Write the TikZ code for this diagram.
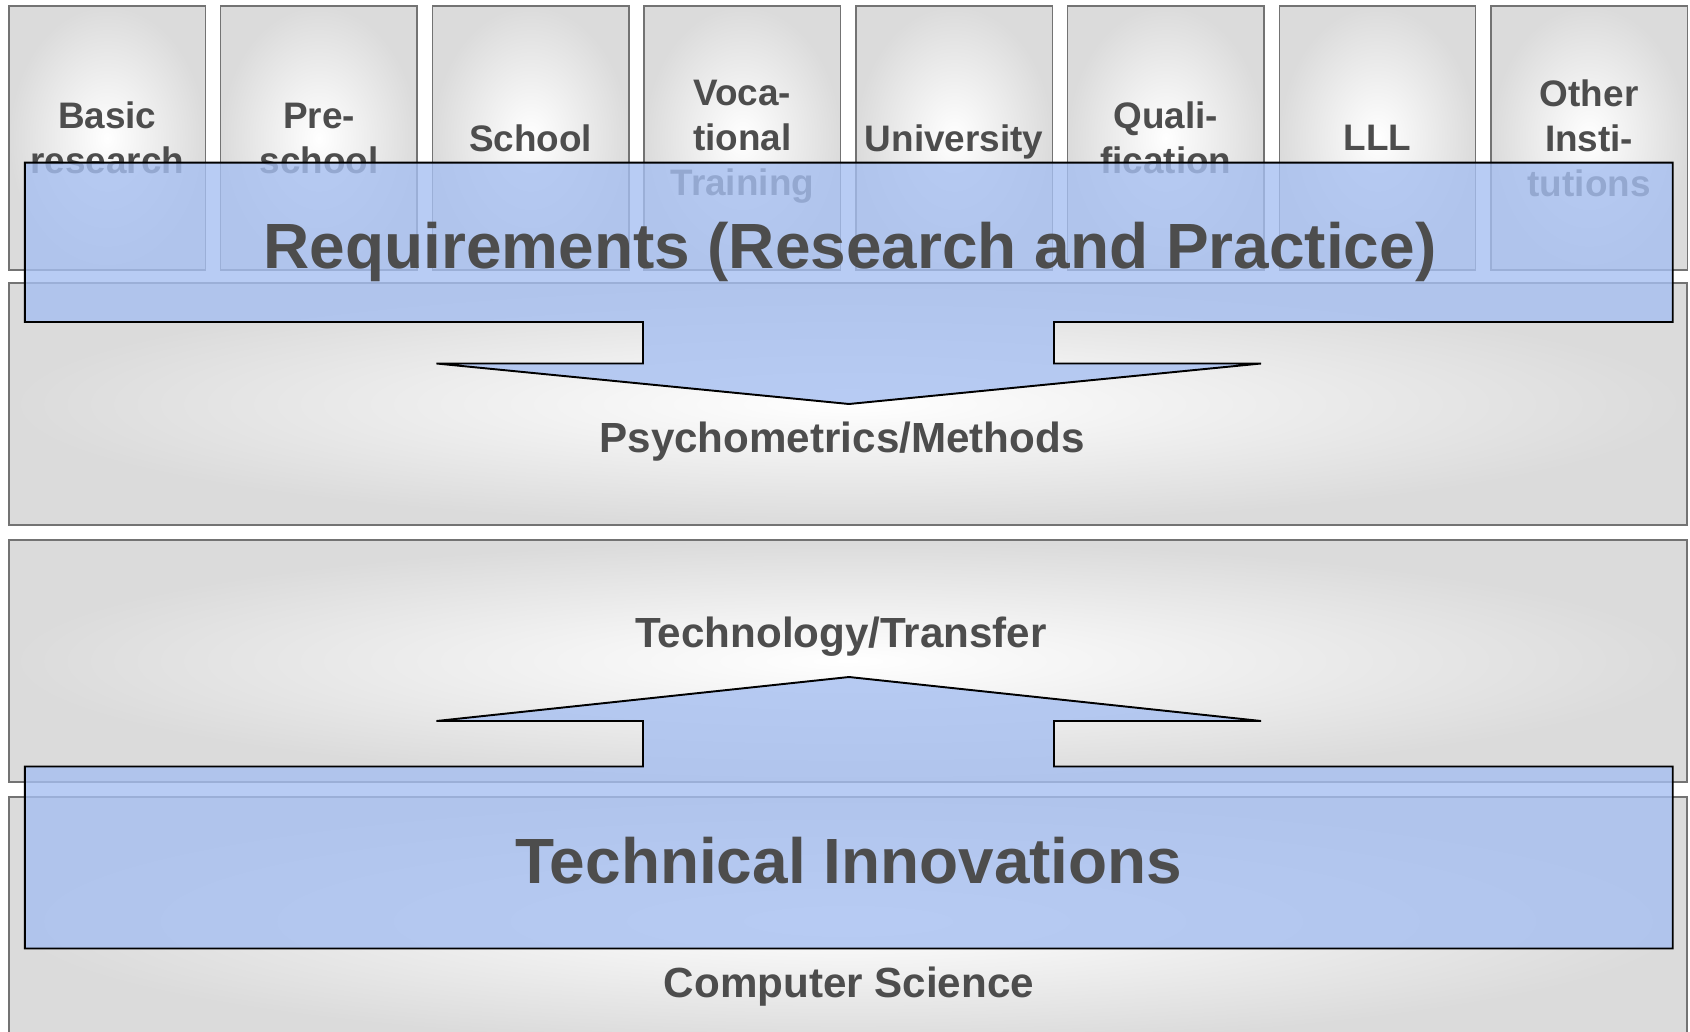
\documentclass[tikz,border=0pt]{standalone}
\usepackage{fontspec}
\setmainfont{Liberation Sans}
\definecolor{labelgray}{RGB}{77,77,77}
\definecolor{panelgray}{RGB}{219,219,219}
\definecolor{arrowblue}{RGB}{166,191,241}
\begin{document}
\begin{tikzpicture}%
	[x={(0.02cm,0cm)},
	y={(0cm,-0.02cm)},
	panel/.style={draw=black!55,line width=0.8pt,shading=radial,inner color=white,outer color=panelgray},
	field/.style={panel,minimum width=3.93cm,minimum height=5.28cm,inner sep=0pt,text depth=0pt,text=labelgray,align=center,font=\fontsize{21}{25.6}\selectfont\bfseries},
	flow/.style={fill=arrowblue,fill opacity=0.8,draw=black,line width=1.1pt,line join=miter},
	layer/.style={text=labelgray,text depth=0pt,font=\fontsize{24}{28}\selectfont\bfseries},
	headline/.style={text=labelgray,text depth=0pt,font=\fontsize{36.4}{40}\selectfont\bfseries}]
	%
	\useasboundingbox (0,0) rectangle (1690,1031);
	\clip (0,0) rectangle (1690,1031);
	%%
	%% Fields of education in the top row
	%%
	\foreach \name/\lbl [count=\i from 0] in {basic/{Basic\\research},preschool/{Pre-\\school},school/{School},vocational/{Voca-\\tional\\Training},university/{University},qualification/{Quali-\\fication},lll/{LLL},other/{Other\\Insti-\\tutions}}
		\node[field] (\name) at ({107.25+211.7*\i},138) {\lbl};
	%%
	%% Layers
	%%
	\draw[panel] (9,283) rectangle (1687,525);
	\draw[panel] (9,540) rectangle (1687,782);
	\draw[panel] (9,797) rectangle (1687,1045);
	%%
	%% Arrows
	%%
	\draw[flow] (24.8,162.7) -- (1672.7,162.7) -- (1672.7,322) -- (1054,322) -- (1054,363.5) -- (1261,363.5) -- (849,404) -- (436.5,363.5) -- (643,363.5) -- (643,322) -- (24.8,322) -- cycle;
	\draw[flow] (24.8,948.5) -- (1672.7,948.5) -- (1672.7,766.5) -- (1054,766.5) -- (1054,721) -- (1261,721) -- (849,677) -- (436.5,721) -- (643,721) -- (643,766.5) -- (24.8,766.5) -- cycle;
	%%
	%% Texts
	%%
	\node[headline] (requirements) at (850,245) {Requirements (Research and Practice)};
	\node[headline] (innovations) at (849,860) {Technical Innovations};
	\node[layer] (methods) at (842,437.6) {Psychometrics/Methods};
	\node[layer] (transfer) at (841,632.7) {Technology/Transfer};
	\node[layer] (science) at (849,982) {Computer Science};
	%%
\end{tikzpicture}
\end{document}
